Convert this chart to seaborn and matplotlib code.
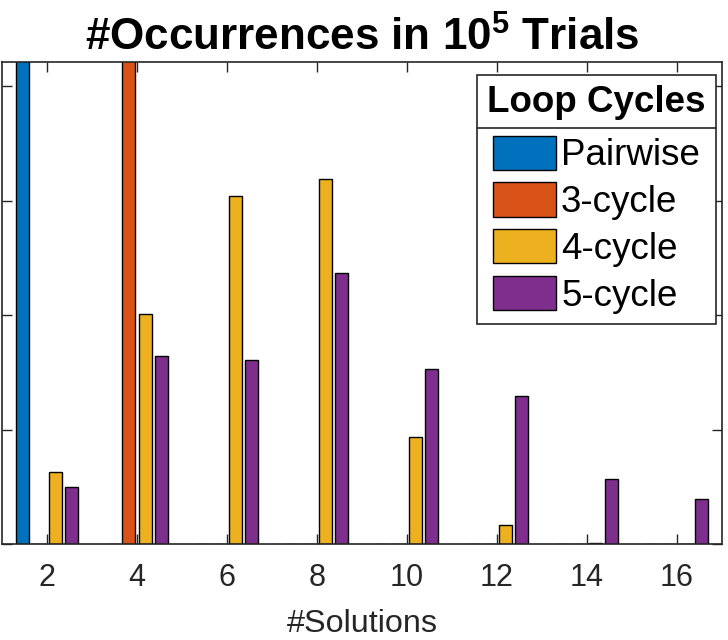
import numpy as np
import pandas as pd
import seaborn as sns
import matplotlib.pyplot as plt
from matplotlib.lines import Line2D

# --- DATA (occurrences out of 1e5 trials) ---
SOLUTIONS = ["2", "4", "6", "8", "10", "12", "14", "16"]
SERIES = ["Pairwise", "3-cycle", "4-cycle", "5-cycle"]
PAIRWISE = [100000, 0, 0, 0, 0, 0, 0, 0]
CYCLE3 = [0, 100000, 0, 0, 0, 0, 0, 0]
CYCLE4 = [6320, 20060, 30400, 31850, 9320, 1630, 100, 0]
CYCLE5 = [4950, 16400, 16050, 23700, 15260, 12900, 5650, 3900]

COLORS = ["#0072BD", "#D95319", "#EDB120", "#7E2F8E"]
AX_COLOR = "#262626"


def main():
    rows = []
    for name, vals in zip(SERIES, [PAIRWISE, CYCLE3, CYCLE4, CYCLE5]):
        for s, v in zip(SOLUTIONS, vals):
            rows.append({"solutions": s, "series": name, "count": v})
    df = pd.DataFrame(rows)

    sns.set_theme(style="ticks")
    plt.rcParams["font.family"] = ["Liberation Sans", "DejaVu Sans"]
    plt.rcParams["mathtext.fontset"] = "custom"
    plt.rcParams["mathtext.rm"] = "Liberation Sans:bold"
    plt.rcParams["mathtext.bf"] = "Liberation Sans:bold"
    plt.rcParams["mathtext.it"] = "Liberation Sans:bold"

    fig = plt.figure(figsize=(7.28, 6.4), dpi=100)
    ax = fig.add_axes([2 / 728, 96 / 640, 720 / 728, 482 / 640])

    sns.barplot(
        data=df, x="solutions", y="count", hue="series",
        order=SOLUTIONS, hue_order=SERIES, palette=COLORS,
        width=0.727, gap=0.2, errorbar=None,
        edgecolor="black", linewidth=1.0, saturation=1, ax=ax,
    )

    ax.set_xlim(-0.5, 7.5)
    ax.set_ylim(0, 42100)
    ax.set_yticks([0, 10000, 20000, 30000, 40000])
    ax.set_yticklabels([])

    for sp in ax.spines.values():
        sp.set_visible(True)
        sp.set_color(AX_COLOR)
        sp.set_linewidth(1.2)
    ax.tick_params(axis="both", direction="in", length=7, width=1.0,
                   color=AX_COLOR, top=True, right=True,
                   labelcolor=AX_COLOR, labelsize=22, pad=14)

    ax.set_xlabel("#Solutions", fontsize=23.3, color=AX_COLOR, labelpad=11)
    ax.set_ylabel("")
    ax.set_title("#Occurrences in 10$^5$ Trials", fontsize=31.7,
                 fontweight="bold", color="black", pad=8)

    handles, labels = ax.get_legend_handles_labels()
    leg = ax.legend(
        handles, labels, title="Loop Cycles",
        loc="upper right", bbox_to_anchor=(0.9917, 0.973),
        borderaxespad=0, fontsize=26.5, labelcolor="black",
        title_fontproperties={"weight": "bold", "size": 26.5},
        frameon=True, fancybox=False, framealpha=1, edgecolor=AX_COLOR,
        handlelength=1.7, handleheight=1.05, handletextpad=0.15,
        labelspacing=0.25, borderpad=0.28,
    )
    leg.get_frame().set_linewidth(1.2)
    leg.get_title().set_color("black")
    # a bit more room between the legend title and the entries
    leg._legend_box.sep = 11

    # separator line under legend title
    fig.canvas.draw()
    fb = leg.get_frame().get_window_extent()
    tb = leg.get_title().get_window_extent()
    hb = leg._legend_handle_box.get_window_extent()
    y = (tb.y0 + hb.y1) / 2
    fig.add_artist(Line2D([fb.x0, fb.x1], [y, y], transform=None,
                          color=AX_COLOR, linewidth=1.2))

    fig.savefig("out.png", dpi=100, facecolor="white")
    plt.close(fig)


if __name__ == "__main__":
    main()
